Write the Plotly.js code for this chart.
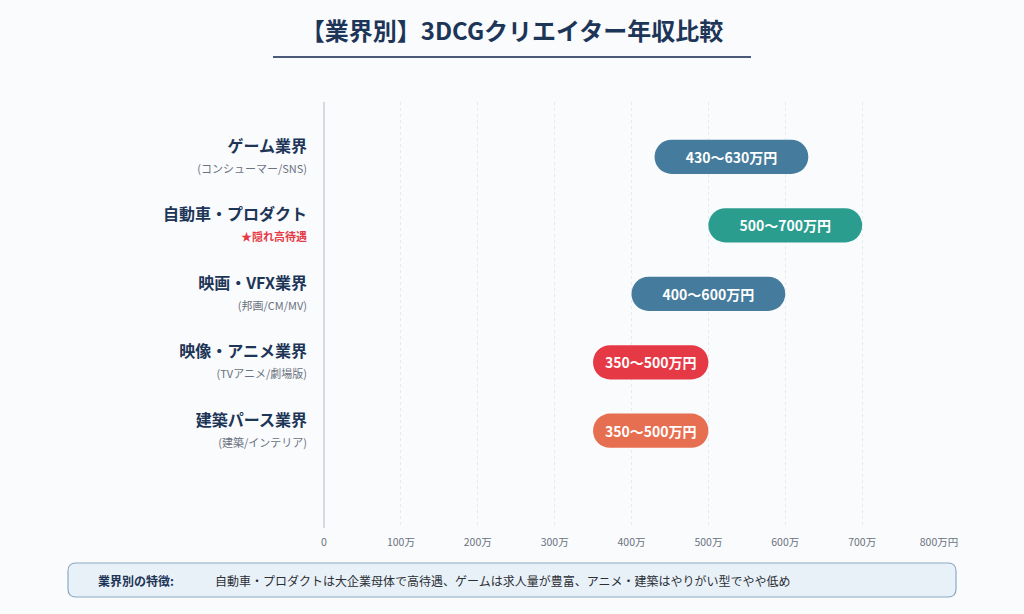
<!DOCTYPE html>
<html>
<head>
<meta charset="utf-8">
<script src="https://cdn.plot.ly/plotly-3.0.1.min.js"></script>
<style>
html,body{margin:0;padding:0;background:#f9fbfd;}
#chart{width:1024px;height:614px;}
</style>
</head>
<body>
<div id="chart"></div>
<script>
// ---- data ----
const categories = ["ゲーム業界", "自動車・プロダクト", "映画・VFX業界", "映像・アニメ業界", "建築パース業界"];
const subLabels = ["(コンシューマー/SNS)", "★隠れ高待遇", "(邦画/CM/MV)", "(TVアニメ/劇場版)", "(建築/インテリア)"];
const salaryMin = [430, 500, 400, 350, 350];
const salaryMax = [630, 700, 600, 500, 500];
const barColors = ["#457b9d", "#2a9d8f", "#457b9d", "#e63946", "#e76f51"];
const xTickVals = [0, 100, 200, 300, 400, 500, 600, 700, 800];
const xTickText = ["0", "100万", "200万", "300万", "400万", "500万", "600万", "700万", "800万円"];
const chartTitle = "【業界別】3DCGクリエイター年収比較";
const noteLabel = "業界別の特徴:";
const noteText = "自動車・プロダクトは大企業母体で高待遇、ゲームは求人量が豊富、アニメ・建築はやりがい型でやや低め";

const FONT = '"Noto Sans CJK JP", "Noto Sans", sans-serif';
const W = 1024, H = 614;
const M = {l: 324, r: 85, t: 102, b: 86};
const pw = W - M.l - M.r, ph = H - M.t - M.b;
function px2x(px){ return (px - M.l) / pw; }
function py2y(py){ return (H - M.b - py) / ph; }

const tickText = categories.map((c, i) => {
  const subColor = i === 1 ? "#e63946" : "#6b7280";
  return "<b>" + c + "</b><br><span style='font-size:11px;color:" + subColor + "'>" + (i === 1 ? "<b>" + subLabels[i] + "</b>" : subLabels[i]) + "</span>";
});

const trace = {
  type: "bar",
  orientation: "h",
  y: categories,
  base: salaryMin,
  x: salaryMax.map((v, i) => v - salaryMin[i]),
  width: 0.5,
  marker: {color: barColors, cornerradius: 17, line: {width: 0}},
  text: salaryMin.map((v, i) => v + "〜" + salaryMax[i] + "万円"),
  textposition: "inside",
  insidetextanchor: "middle",
  textangle: 0,
  textfont: {family: FONT, size: 14, color: "#ffffff", weight: 700},
  hoverinfo: "skip",
  cliponaxis: false
};

// rounded-rect path for the footer note box
function roundRect(x0, y0, x1, y1, r){
  const X = px2x, Y = py2y;
  return "M" + X(x0 + r) + "," + Y(y0) +
    " L" + X(x1 - r) + "," + Y(y0) +
    " Q" + X(x1) + "," + Y(y0) + " " + X(x1) + "," + Y(y0 + r) +
    " L" + X(x1) + "," + Y(y1 - r) +
    " Q" + X(x1) + "," + Y(y1) + " " + X(x1 - r) + "," + Y(y1) +
    " L" + X(x0 + r) + "," + Y(y1) +
    " Q" + X(x0) + "," + Y(y1) + " " + X(x0) + "," + Y(y1 - r) +
    " L" + X(x0) + "," + Y(y0 + r) +
    " Q" + X(x0) + "," + Y(y0) + " " + X(x0 + r) + "," + Y(y0) + " Z";
}

const layout = {
  width: W, height: H,
  margin: M,
  paper_bgcolor: "#f9fbfd",
  plot_bgcolor: "#f9fbfd",
  font: {family: FONT, color: "#1d3557"},
  showlegend: false,
  title: {
    text: "<b>" + chartTitle + "</b>",
    font: {family: FONT, size: 24, color: "#1d3557"},
    x: 0.5, xref: "container", xanchor: "center",
    y: 1 - 32 / H, yref: "container", yanchor: "middle"
  },
  xaxis: {
    range: [0, 800],
    tickmode: "array",
    tickvals: xTickVals,
    ticktext: xTickText,
    tickfont: {family: FONT, size: 10.5, color: "#6b7280"},
    showgrid: true,
    gridcolor: "#e6e9ee",
    griddash: "dot",
    gridwidth: 1,
    zeroline: true,
    zerolinecolor: "#d5dae1",
    zerolinewidth: 1.5,
    showline: false,
    ticks: "",
    ticklabelstandoff: 6,
    fixedrange: true
  },
  yaxis: {
    type: "category",
    categoryorder: "array",
    categoryarray: categories,
    range: [5.42, -0.8],
    tickmode: "array",
    tickvals: categories,
    ticktext: tickText,
    tickfont: {family: FONT, size: 16, color: "#1d3557"},
    showgrid: false,
    zeroline: false,
    showline: false,
    ticks: "",
    ticklabelstandoff: 16,
    fixedrange: true
  },
  shapes: [
    {type: "line", xref: "paper", yref: "paper",
     x0: px2x(273), x1: px2x(751), y0: py2y(57), y1: py2y(57),
     line: {color: "#4a5a78", width: 2}},
    {type: "path", xref: "paper", yref: "paper",
     path: roundRect(68, 563, 956, 597, 8),
     fillcolor: "#e9f1f8", line: {color: "#8ea9c1", width: 1.2}}
  ],
  annotations: [
    {xref: "paper", yref: "paper", x: px2x(96), y: py2y(580), xanchor: "left", yanchor: "middle",
     text: "<b>" + noteLabel + "</b>", showarrow: false,
     font: {family: FONT, size: 12, color: "#1d3557"}},
    {xref: "paper", yref: "paper", x: px2x(213), y: py2y(580), xanchor: "left", yanchor: "middle",
     text: noteText, showarrow: false,
     font: {family: FONT, size: 12, color: "#2b2f36"}}
  ]
};

Plotly.newPlot("chart", [trace], layout, {displayModeBar: false, staticPlot: true});
</script>
</body>
</html>
